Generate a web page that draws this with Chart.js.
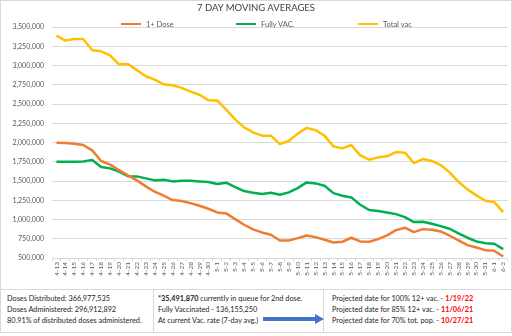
<!DOCTYPE html>
<html>
<head>
<meta charset="utf-8">
<script src="https://cdn.jsdelivr.net/npm/chart.js@4.4.0/dist/chart.umd.min.js"></script>
<style>
  body { margin: 0; background: #fff; font-family: Lato, "Open Sans", sans-serif; }
  #wrap { position: relative; width: 512px; height: 336px; overflow: hidden; }
  #frame { position: absolute; left: 0; top: 0; width: 510px; height: 288px; border: 1px solid #d9d9d9; }
  #chart { position: absolute; left: 0; top: 0; }
  #title { position: absolute; left: 0; width: 512px; top: 2px; text-align: center; font-size: 9.5px; color: #404040; }
  .leg { position: absolute; top: 20px; font-size: 7.5px; color: #595959; white-space: nowrap; }
  .leg i { display: inline-block; width: 20px; height: 2.5px; vertical-align: middle; margin-right: 5px; position: relative; top: -1px; }
  #table { position: absolute; left: 0; top: 289px; width: 510px; height: 43px; border: 1px solid #d9d9d9; border-top: none; }
  .cell { position: absolute; top: 4px; font-size: 7.3px; line-height: 11px; color: #262626; white-space: nowrap; }
  .div { position: absolute; top: 0; width: 1px; height: 43px; background: #d9d9d9; }
  .red { color: #ff0000; font-weight: bold; }
</style>
</head>
<body>
<div id="wrap">
  <div id="frame"></div>
  <canvas id="chart" width="512" height="286"></canvas>
  <div id="title">7 DAY MOVING AVERAGES</div>
  <div class="leg" style="left:121px"><i style="background:#ED7D31"></i>1+ Dose</div>
  <div class="leg" style="left:236px"><i style="background:#00B050"></i>Fully VAC.</div>
  <div class="leg" style="left:358px"><i style="background:#FFC000"></i>Total vac</div>
  <div id="table">
    <div class="div" style="left:152px"></div>
    <div class="div" style="left:322px"></div>
    <div class="cell" style="left:6px">
      Doses Distributed: 366,977,535<br>
      Doses Administered: 296,912,892<br>
      80.91% of distributed doses administered.
    </div>
    <div class="cell" style="left:157px">
      <b>*35,491,870</b> currently in queue for 2nd dose.<br>
      Fully Vaccinated - 136,155,250<br>
      At current Vac. rate (7-day avg.)
    </div>
    <svg style="position:absolute; left:262px; top:24px" width="62" height="12">
      <polygon points="0,4 52,4 52,1 61,6 52,11 52,8 0,8" fill="#4472C4" />
    </svg>
    <div class="cell" style="left:331px">
      Projected date for 100% 12+ vac. - <span class="red">1/19/22</span><br>
      Projected date for 85% 12+ vac. - <span class="red">11/06/21</span><br>
      Projected date for 70% tot. pop. - <span class="red">10/27/21</span>
    </div>
  </div>
</div>
<script>
// Days from 4-13 to 6-2
const days = [
	"4-13", "4-14", "4-15", "4-16", "4-17", "4-18", "4-19", "4-20", "4-21", "4-22",
	"4-23", "4-24", "4-25", "4-26", "4-27", "4-28", "4-29", "4-30", "5-1", "5-2",
	"5-3", "5-4", "5-5", "5-6", "5-7", "5-8", "5-9", "5-10", "5-11", "5-12",
	"5-13", "5-14", "5-15", "5-16", "5-17", "5-18", "5-19", "5-20", "5-21", "5-22",
	"5-23", "5-24", "5-25", "5-26", "5-27", "5-28", "5-29", "5-30", "5-31", "6-1", "6-2",
];

// 7 day moving averages
const firstDose = [
	1998000, 1993000, 1985000, 1967000, 1898000, 1760000, 1712000, 1642000, 1573000, 1508000,
	1430000, 1361000, 1309000, 1252000, 1240000, 1213000, 1179000, 1140000, 1092000, 1079000,
	1005000, 932000, 871000, 832000, 802000, 728000, 728000, 758000, 793000, 771000,
	737000, 702000, 711000, 763000, 715000, 711000, 745000, 793000, 862000, 893000,
	836000, 875000, 867000, 845000, 789000, 728000, 667000, 637000, 602000, 594000, 520000,
];
const fullyVac = [
	1750000, 1750000, 1750000, 1752000, 1772000, 1681000, 1664000, 1621000, 1562000, 1560000,
	1534000, 1508000, 1517000, 1495000, 1504000, 1504000, 1495000, 1486000, 1460000, 1478000,
	1421000, 1369000, 1348000, 1330000, 1348000, 1322000, 1352000, 1408000, 1482000, 1469000,
	1439000, 1343000, 1309000, 1287000, 1192000, 1123000, 1110000, 1092000, 1070000, 1031000,
	966000, 971000, 945000, 914000, 880000, 819000, 763000, 715000, 693000, 685000, 615000,
];
const totalVac = [
	3389000, 3324000, 3345000, 3345000, 3198000, 3185000, 3130000, 3016000, 3020000, 2940000,
	2860000, 2817000, 2756000, 2743000, 2710000, 2660000, 2620000, 2550000, 2544000, 2427000,
	2300000, 2197000, 2132000, 2089000, 2089000, 1980000, 2020000, 2115000, 2190000, 2160000,
	2089000, 1950000, 1924000, 1967000, 1833000, 1777000, 1807000, 1820000, 1876000, 1868000,
	1733000, 1785000, 1760000, 1707000, 1612000, 1490000, 1391000, 1313000, 1244000, 1226000, 1096000,
];

const ctx = document.getElementById("chart").getContext("2d");
const chart = new Chart(ctx, {
	type: "line",
	data: {
		labels: days,
		datasets: [
			{ label: "1+ Dose", data: firstDose, borderColor: "#ED7D31" },
			{ label: "Fully VAC.", data: fullyVac, borderColor: "#00B050" },
			{ label: "Total vac", data: totalVac, borderColor: "#FFC000" },
		],
	},
	options: {
		responsive: false,
		animation: false,
		elements: {
			line: { borderWidth: 2.5, tension: 0, borderJoinStyle: "round" },
			point: { radius: 0 },
		},
		layout: { padding: { top: 27, right: 1, left: 0, bottom: 0 } },
		plugins: {
			legend: { display: false },
			tooltip: { enabled: false },
		},
		scales: {
			y: {
				min: 500000,
				max: 3500000,
				afterFit: (scale) => { scale.width = 52; },
				border: { display: false },
				grid: { color: "#d9d9d9", lineWidth: 1, drawTicks: false },
				ticks: {
					stepSize: 250000,
					padding: 8,
					color: "#595959",
					font: { family: "Lato", size: 7 },
					callback: (v) => v.toLocaleString("en-US"),
				},
			},
			x: {
				offset: true,
				afterFit: (scale) => { scale.height = 28; },
				border: { color: "#d9d9d9" },
				grid: { offset: true, drawOnChartArea: false, color: "#d9d9d9", tickLength: 3 },
				ticks: {
					autoSkip: false,
					minRotation: 90,
					maxRotation: 90,
					padding: 1,
					color: "#595959",
					font: { family: "Lato", size: 6.5 },
				},
			},
		},
	},
});
</script>
</body>
</html>
